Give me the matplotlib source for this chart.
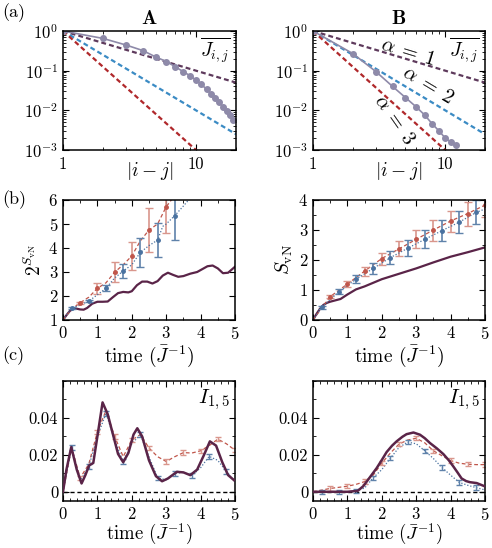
import numpy as np
import matplotlib
matplotlib.use('Agg')
import matplotlib.pyplot as plt
from matplotlib.ticker import FixedLocator, MultipleLocator, LogLocator, NullFormatter

plt.rcParams['font.family'] = 'serif'
plt.rcParams['font.serif'] = ['cmr10']
plt.rcParams['mathtext.fontset'] = 'cm'
plt.rcParams['axes.formatter.use_mathtext'] = True
plt.rcParams['axes.unicode_minus'] = False

# ---------------- data ----------------
# (a) couplings vs distance
dist_a = [1, 2, 3, 4, 5, 6, 7, 8, 9, 10, 11, 12, 13, 14, 15, 16, 17, 18, 19]
J_a = [1.0, 0.65, 0.44, 0.32, 0.22, 0.17, 0.125, 0.095, 0.075, 0.058, 0.045,
       0.034, 0.026, 0.020, 0.016, 0.012, 0.0095, 0.0075, 0.0058]
dist_b = [1, 2, 3, 4, 5, 6, 7, 8, 9, 10, 11, 12]
J_b = [1.0, 0.27, 0.094, 0.04, 0.021, 0.0124, 0.0076, 0.0045, 0.003, 0.002,
       0.0016, 0.0013]
alphas = [1, 2, 3]
alpha_colors = ['#5e3a5c', '#3b8bc4', '#b0282b']

# (b) left: 2^S_vN
tb_theory = [0, 0.1, 0.2, 0.3, 0.4, 0.5, 0.6, 0.7, 0.85, 1.0, 1.15, 1.3, 1.45,
             1.6, 1.75, 1.9, 2.0, 2.15, 2.3, 2.45, 2.6, 2.75, 2.9, 3.05, 3.2,
             3.35, 3.5, 3.7, 3.9, 4.05, 4.2, 4.35, 4.5, 4.65, 4.8, 5.0]
b_theory = [1.0, 1.2, 1.38, 1.47, 1.47, 1.44, 1.43, 1.5, 1.68, 1.76, 1.76, 1.77,
            1.95, 2.12, 2.17, 2.15, 2.2, 2.45, 2.6, 2.6, 2.52, 2.62, 2.85, 2.97,
            2.88, 2.8, 2.83, 2.93, 3.0, 3.12, 3.24, 3.27, 3.15, 2.95, 2.97, 3.22]
tb_red = [0, 0.25, 0.5, 0.75, 1.0, 1.25, 1.5, 1.75, 2.0, 2.25, 2.5, 2.75, 3.0, 3.15]
b_red = [1.0, 1.45, 1.72, 1.95, 2.32, 2.55, 2.99, 3.3, 3.67, 4.3, 4.75, 5.0, 5.72, 6.0]
b_red_err = [0, 0, 0.05, 0, 0.24, 0, 0.42, 0, 0.6, 0, 0.9, 0, 1.1, 0]
tb_blue = [0, 0.25, 0.5, 0.75, 1.0, 1.25, 1.5, 1.75, 2.0, 2.25, 2.5, 2.75, 2.9,
           3.0, 3.25, 3.5, 3.65]
b_blue = [1.0, 1.49, 1.62, 1.79, 2.05, 2.32, 2.75, 3.04, 3.3, 3.82, 4.1, 4.33,
          4.9, 5.0, 5.35, 5.75, 6.0]
b_blue_err = [0, 0.04, 0, 0.05, 0, 0.12, 0, 0.3, 0, 0.6, 0, 0.7, 0, 0, 1.0, 0, 0]

# (b) right: S_vN
sb_theory_t = [0, 0.1, 0.2, 0.3, 0.4, 0.5, 0.6, 0.8, 1.0, 1.25, 1.5, 2.0, 2.5,
               3.0, 3.5, 4.0, 4.5, 5.0]
sb_theory = [0, 0.2, 0.37, 0.5, 0.57, 0.61, 0.64, 0.7, 0.85, 1.02, 1.12, 1.36,
             1.54, 1.72, 1.92, 2.11, 2.26, 2.42]
sb_red_t = [0, 0.5, 1.0, 1.5, 2.0, 2.5, 3.0, 3.5, 4.0, 4.5, 5.0]
sb_red = [0, 0.78, 1.2, 1.63, 2.05, 2.37, 2.69, 3.0, 3.3, 3.55, 3.83]
sb_red_err = [0, 0.05, 0.1, 0.15, 0.2, 0.25, 0.3, 0.35, 0.35, 0.4, 0.4]
sb_blue_t = [0, 0.25, 0.75, 1.25, 1.75, 2.25, 2.75, 3.25, 3.75, 4.25, 4.75, 5.0]
sb_blue = [0, 0.42, 0.94, 1.36, 1.72, 2.08, 2.39, 2.69, 2.98, 3.26, 3.59, 3.7]
sb_blue_err = [0, 0.05, 0.08, 0.13, 0.18, 0.22, 0.27, 0.3, 0.35, 0.37, 0.4, 0]

# (c) mutual information I_{1,5}
tc = [0, 0.25, 0.5, 0.75, 1.0, 1.25, 1.5, 1.75, 2.0, 2.25, 2.5, 2.75, 3.0,
      3.25, 3.5, 3.75, 4.0, 4.25, 4.5, 4.75, 5.0]
ca_theory_t = [0, 0.1, 0.24, 0.4, 0.54, 0.65, 0.76, 0.88, 1.0, 1.15, 1.3, 1.46,
               1.6, 1.75, 1.9, 2.05, 2.16, 2.3, 2.5, 2.7, 2.88, 3.05, 3.31, 3.5,
               3.7, 3.9, 4.1, 4.27, 4.45, 4.63, 4.8, 4.97]
ca_theory = [0, 0.012, 0.0242, 0.012, 0.0045, 0.009, 0.0143, 0.0156, 0.03,
             0.0484, 0.042, 0.0305, 0.0205, 0.016, 0.021, 0.031, 0.0344, 0.03,
             0.017, 0.0085, 0.0057, 0.0072, 0.0108, 0.0105, 0.009, 0.012, 0.02,
             0.0273, 0.025, 0.016, 0.009, 0.0063]
ca_red = [0, 0.024, 0.0075, 0.015, 0.0325, 0.044, 0.030, 0.019, 0.028, 0.031,
          0.0237, 0.019, 0.0164, 0.019, 0.0212, 0.021, 0.0222, 0.025, 0.0285,
          0.026, 0.0225]
ca_blue = [0, 0.024, 0.006, 0.0137, 0.03, 0.0425, 0.028, 0.0163, 0.026, 0.031,
           0.019, 0.0075, 0.0065, 0.0100, 0.0105, 0.0088, 0.013, 0.0192, 0.017,
           0.011, 0.0055]
cb_theory_t = [0, 0.5, 1.0, 1.3, 1.46, 1.6, 1.85, 2.0, 2.14, 2.3, 2.43, 2.6,
               2.72, 2.92, 3.11, 3.25, 3.4, 3.6, 3.79, 3.95, 4.08, 4.2, 4.32,
               4.45, 4.56, 4.76, 5.0]
cb_theory = [0, 0, 0, 0.0005, 0.003, 0.0065, 0.0128, 0.0172, 0.0215, 0.025,
             0.0273, 0.0298, 0.0312, 0.0321, 0.0309, 0.029, 0.0264, 0.0235,
             0.0204, 0.017, 0.0137, 0.0105, 0.0072, 0.0058, 0.0052, 0.0047,
             0.0029]
cb_red = [0, 0.0009, 0.0018, 0.0024, 0.003, 0.004, 0.0055, 0.009, 0.0155,
          0.021, 0.0258, 0.028, 0.029, 0.0265, 0.0222, 0.0195, 0.0169, 0.0155,
          0.0149, 0.0147, 0.0147]
cb_blue = [0, 0, 0, 0, 0, 0.0005, 0.002, 0.0076, 0.012, 0.0182, 0.024, 0.0269,
           0.026, 0.0222, 0.018, 0.0131, 0.009, 0.0051, 0.0035, 0.0022, 0.001]
c_err = 0.0012

theory_color = '#5a2448'
red = '#c0564b'
red_err = '#d9968c'
blue = '#4a72a0'
blue_err = '#5f82aa'
dot_color = '#8e8aa9'

W, H = 492, 548
fig = plt.figure(figsize=(W / 100, H / 100), dpi=100)

def box(x0, y0, x1, y1):
  return [x0 / W, 1 - y1 / H, (x1 - x0) / W, (y1 - y0) / H]

def style(ax):
  ax.tick_params(which='both', direction='in', top=True, right=True, labelsize=12)
  ax.tick_params(which='major', length=4)
  ax.tick_params(which='minor', length=2)
  for s in ax.spines.values():
    s.set_linewidth(1.1)

# ---------------- (a) ----------------
def coupling_panel(ax, dist, J, title, labels):
  x = np.array([1, 20])
  for a, c in zip(alphas, alpha_colors):
    ax.plot(x, x ** (-float(a)), ls=(0, (2.2, 1.4)), color=c, lw=1.6)
  ax.plot(dist, J, '-', color=dot_color, lw=1.2)
  ax.plot(dist, J, 'o', color=dot_color, ms=4)
  ax.set_xscale('log')
  ax.set_yscale('log')
  ax.set_xlim(1, 20)
  ax.set_ylim(1e-3, 1)
  ax.xaxis.set_major_locator(FixedLocator([1, 10]))
  ax.set_xticklabels(['1', '10'])
  ax.xaxis.set_minor_locator(LogLocator(subs=np.arange(2, 10)))
  ax.xaxis.set_minor_formatter(NullFormatter())
  ax.yaxis.set_major_locator(FixedLocator([1e-3, 1e-2, 1e-1, 1]))
  ax.yaxis.set_minor_locator(LogLocator(subs=np.arange(2, 10)))
  ax.yaxis.set_minor_formatter(NullFormatter())
  style(ax)
  ax.tick_params(axis='x', pad=5)
  ax.set_xlabel(r'$|i-j|$', fontsize=14, labelpad=-9)
  ax.set_title(r'$\mathbf{' + title + '}$', fontsize=14.5, pad=5)
  ax.text(0.97, 0.96, r'$\overline{J_{i,j}}$', transform=ax.transAxes,
          ha='right', va='top', fontsize=14)
  if labels:
    ax.text(0.55, 0.82, r'$\alpha\;=\;1$', transform=ax.transAxes, rotation=-17,
            ha='center', va='center', fontsize=14.5)
    ax.text(0.665, 0.545, r'$\alpha\;=\;2$', transform=ax.transAxes, rotation=-31,
            ha='center', va='center', fontsize=14.5)
    ax.text(0.47, 0.25, r'$\alpha\;=\;3$', transform=ax.transAxes, rotation=-55,
            ha='center', va='center', fontsize=14.5)

axA = fig.add_axes(box(63, 31, 236, 150))
coupling_panel(axA, dist_a, J_a, 'A', False)
axB = fig.add_axes(box(313, 31, 485, 150))
coupling_panel(axB, dist_b, J_b, 'B', True)

# ---------------- (b) ----------------
def data_series(ax, t, y, err, color, ecolor, ls):
  ax.plot(t, y, ls=ls, color=color, lw=0.9)
  t = np.array(t)
  y = np.array(y)
  err = np.array(err)
  m = err > 0
  ax.errorbar(t[m], y[m], yerr=err[m], fmt='o', ms=2.5, color=color,
              ecolor=ecolor, elinewidth=1.2, capsize=2.8, capthick=1.0)

ax = fig.add_axes(box(63, 200, 235, 320))
ax.plot(tb_theory, b_theory, color=theory_color, lw=1.6)
data_series(ax, tb_red, b_red, b_red_err, red, red_err, (0, (3, 2)))
data_series(ax, tb_blue, b_blue, b_blue_err, blue, blue_err, (0, (1, 1.5)))
ax.set_xlim(0, 5)
ax.set_ylim(1, 6)
ax.xaxis.set_major_locator(MultipleLocator(1))
ax.xaxis.set_minor_locator(MultipleLocator(0.5))
ax.yaxis.set_major_locator(MultipleLocator(1))
style(ax)
ax.set_ylabel(r'$2^{S_{\rm vN}}$', fontsize=14, labelpad=2)
ax.set_xlabel(r'time $(\bar{J}^{-1})$', fontsize=14, labelpad=1)

ax = fig.add_axes(box(313, 200, 485, 320))
ax.plot(sb_theory_t, sb_theory, color=theory_color, lw=1.6)
data_series(ax, sb_red_t, sb_red, sb_red_err, red, red_err, (0, (3, 2)))
data_series(ax, sb_blue_t, sb_blue, sb_blue_err, blue, blue_err, (0, (1, 1.5)))
ax.set_xlim(0, 5)
ax.set_ylim(0, 4)
ax.xaxis.set_major_locator(MultipleLocator(1))
ax.xaxis.set_minor_locator(MultipleLocator(0.5))
ax.yaxis.set_major_locator(MultipleLocator(1))
ax.yaxis.set_minor_locator(MultipleLocator(0.5))
style(ax)
ax.set_ylabel(r'$S_{\rm vN}$', fontsize=14, labelpad=2)
ax.set_xlabel(r'time $(\bar{J}^{-1})$', fontsize=14, labelpad=1)

# ---------------- (c) ----------------
def mi_panel(ax, theory_t, theory, red_y, blue_y):
  ax.axhline(0, color='k', ls=(0, (3, 2)), lw=1.0)
  ax.plot(theory_t, theory, color=theory_color, lw=1.8, zorder=3)
  ax.plot(tc, red_y, ls=(0, (3, 2)), color=red, lw=0.9)
  ax.plot(tc, blue_y, ls=(0, (1, 1.5)), color=blue, lw=0.9)
  t = np.array(tc)
  ax.errorbar(t[2::2], np.array(red_y)[2::2], yerr=c_err, fmt='none',
              ecolor=red_err, elinewidth=1.0, capsize=2.5, capthick=1.0)
  ax.errorbar(t[1::2], np.array(blue_y)[1::2], yerr=c_err, fmt='none',
              ecolor=blue_err, elinewidth=1.0, capsize=2.5, capthick=1.0)
  ax.set_xlim(0, 5)
  ax.set_ylim(-0.005, 0.06)
  ax.xaxis.set_major_locator(MultipleLocator(1))
  ax.xaxis.set_minor_locator(MultipleLocator(0.2))
  ax.yaxis.set_major_locator(FixedLocator([0, 0.02, 0.04]))
  ax.set_yticklabels(['0', '0.02', '0.04'])
  ax.yaxis.set_minor_locator(MultipleLocator(0.01))
  style(ax)
  ax.text(0.97, 0.95, r'$I_{1,5}$', transform=ax.transAxes, ha='right',
          va='top', fontsize=15)
  ax.set_xlabel(r'time $(\bar{J}^{-1})$', fontsize=13.5, labelpad=-1)

axc1 = fig.add_axes(box(63, 381, 235, 501))
mi_panel(axc1, ca_theory_t, ca_theory, ca_red, ca_blue)
axc2 = fig.add_axes(box(313, 381, 485, 501))
mi_panel(axc2, cb_theory_t, cb_theory, cb_red, cb_blue)

fig.text(2 / W, 1 - 13 / H, '(a)', fontsize=13, va='center')
fig.text(2 / W, 1 - 200 / H, '(b)', fontsize=13, va='center')
fig.text(2 / W, 1 - 356 / H, '(c)', fontsize=13, va='center')

fig.savefig('out.png', dpi=100)
